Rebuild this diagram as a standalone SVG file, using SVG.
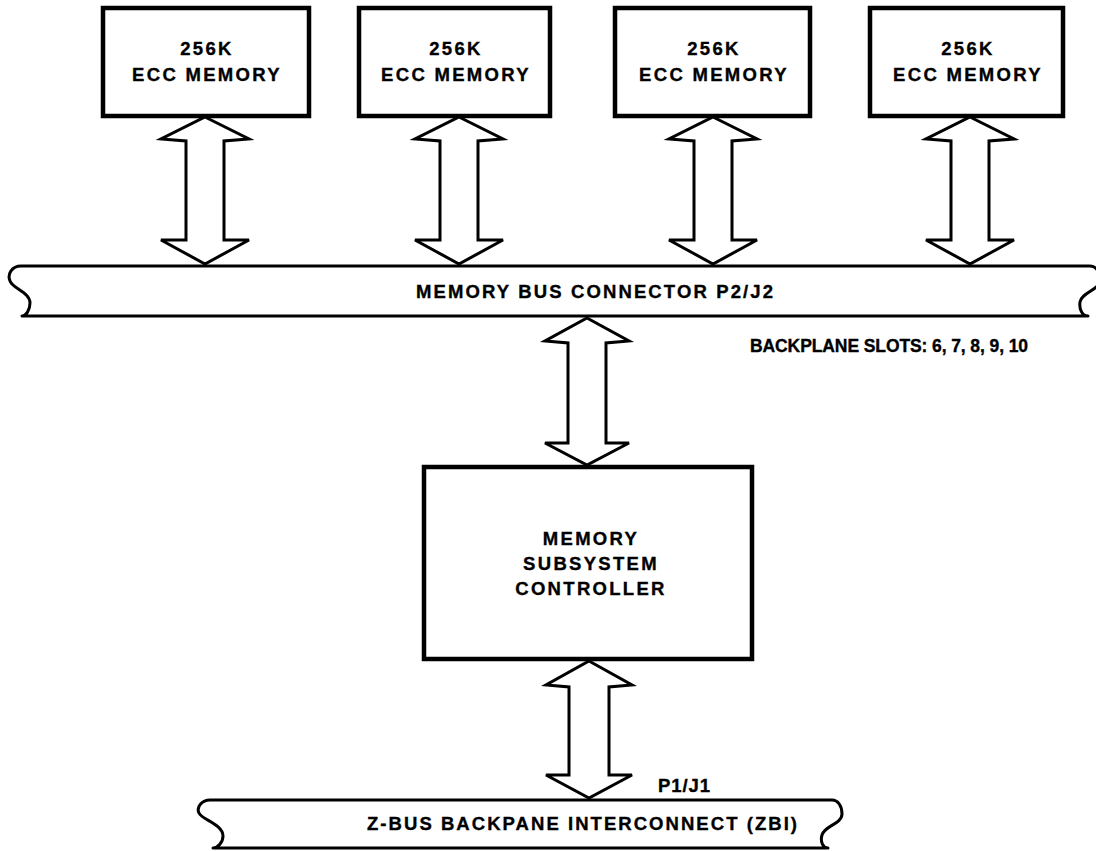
<svg xmlns="http://www.w3.org/2000/svg" width="1096" height="851" viewBox="0 0 1096 851">
  <style>
    .box { fill: #fff; stroke: #000; stroke-width: 4.5; }
    .bus { fill: #fff; stroke: #000; stroke-width: 3; stroke-linejoin: round; }
    .arrow { fill: #fff; stroke: #000; stroke-width: 3; stroke-linejoin: miter; }
    .lbl { font-family: "Liberation Sans", Arial, Helvetica, sans-serif; font-weight: bold; font-size: 18.5px; fill: #000; stroke: #000; stroke-width: 0.35px; }
    .wide { letter-spacing: 2.3px; }
    .small { font-size: 17.5px; letter-spacing: -0.1px; }
    .c { text-anchor: middle; }
  </style>
  <rect width="1096" height="851" fill="#fff"/>

  <!-- memory bus ribbon -->
  <g id="memory-bus">
    <path class="bus" d="M 22 316 H 1088 C 1082 316, 1079 309, 1080 302 C 1082 292, 1100 290, 1100 280 C 1100 272, 1096 266, 1090 266 H 21 C 12 266, 7 274, 10 281 C 13 289, 30 292, 30 303 C 30 310, 26 316, 22 316 Z"/>
    <text class="lbl" x="416" y="298" textLength="357" lengthAdjust="spacing">MEMORY BUS CONNECTOR P2/J2</text>
  </g>

  <!-- Z-Bus ribbon -->
  <g id="zbi-bus">
    <path class="bus" d="M 213 848 H 828 C 823 848, 820 842, 822 835 C 824 826, 842 824, 842 814 C 842 806, 838 800, 832 800 H 210 C 202 800, 196 807, 199 813 C 202 820, 223 824, 223 836 C 223 842, 218 848, 213 848 Z"/>
    <text class="lbl c" x="582" y="830" textLength="430" lengthAdjust="spacing">Z-BUS BACKPANE INTERCONNECT (ZBI)</text>
  </g>

  <!-- memory boards -->
  <g id="mem1">
    <rect class="box" x="103" y="8" width="206" height="108"/>
    <text class="lbl wide c" x="207" y="55">256K</text>
    <text class="lbl wide c" x="207" y="81">ECC MEMORY</text>
  </g>
  <g id="mem2">
    <rect class="box" x="359" y="8" width="191" height="108"/>
    <text class="lbl wide c" x="456" y="55">256K</text>
    <text class="lbl wide c" x="456" y="81">ECC MEMORY</text>
  </g>
  <g id="mem3">
    <rect class="box" x="615" y="8" width="195" height="108"/>
    <text class="lbl wide c" x="714" y="55">256K</text>
    <text class="lbl wide c" x="714" y="81">ECC MEMORY</text>
  </g>
  <g id="mem4">
    <rect class="box" x="870" y="8" width="193" height="108"/>
    <text class="lbl wide c" x="968" y="55">256K</text>
    <text class="lbl wide c" x="968" y="81">ECC MEMORY</text>
  </g>

  <!-- controller -->
  <g id="controller">
    <rect class="box" x="424" y="467" width="328" height="192"/>
    <text class="lbl wide c" x="591" y="545">MEMORY</text>
    <text class="lbl wide c" x="591" y="570">SUBSYSTEM</text>
    <text class="lbl wide c" x="591" y="595">CONTROLLER</text>
  </g>

  <!-- free labels -->
  <g id="labels">
    <text class="lbl small" x="750" y="352">BACKPLANE SLOTS: 6, 7, 8, 9, 10</text>
    <text class="lbl" x="658" y="792" textLength="52" lengthAdjust="spacing">P1/J1</text>
  </g>

  <!-- bidirectional bus arrows -->
  <g id="connectors">
    <path class="arrow" d="M 205 117 L 249 139 L 224 141 L 224 240 L 249 240 L 205 264 L 161 240 L 186 240 L 186 141 L 161 139 Z"/>
    <path class="arrow" d="M 459 117 L 503 139 L 478 141 L 478 240 L 503 240 L 459 264 L 415 240 L 440 240 L 440 141 L 415 139 Z"/>
    <path class="arrow" d="M 713 117 L 757 139 L 732 141 L 732 240 L 757 240 L 713 264 L 669 240 L 694 240 L 694 141 L 669 139 Z"/>
    <path class="arrow" d="M 970 117 L 1014 139 L 989 141 L 989 240 L 1014 240 L 970 264 L 926 240 L 951 240 L 951 141 L 926 139 Z"/>
    <path class="arrow" d="M 587 318 L 629 341 L 606 343 L 606 443 L 629 443 L 587 465 L 545 443 L 568 443 L 568 343 L 545 341 Z"/>
    <path class="arrow" d="M 589 661 L 632 685 L 609 687 L 609 775 L 632 775 L 589 798 L 546 775 L 569 775 L 569 687 L 546 685 Z"/>
  </g>
</svg>
